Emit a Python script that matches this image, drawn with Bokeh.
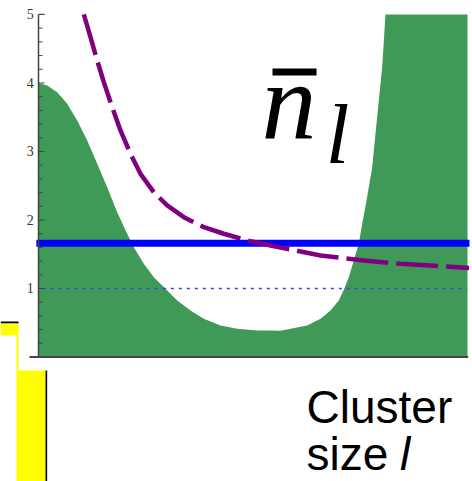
from bokeh.plotting import figure
from bokeh.models import Range1d
from bokeh.core.properties import value
from bokeh.embed import file_html
from bokeh.resources import INLINE

# Lower bound of the stable region (green) versus cluster size l
green_l = [0.0, 0.20, 0.431, 0.661, 0.892, 1.122, 1.353, 1.583, 1.813, 2.044,
           2.196, 2.426, 2.657, 2.926, 3.196, 3.502, 3.809, 4.194, 4.578, 5.039,
           5.346, 5.576, 5.806, 6.191, 6.498, 6.728, 6.919, 7.035, 7.150, 7.265,
           7.380, 7.459, 7.558, 7.689, 7.765, 7.841, 7.919, 7.995, 9.885]
green_n = [4.0, 3.964, 3.866, 3.696, 3.453, 3.161, 2.820, 2.479, 2.114, 1.799,
           1.603, 1.361, 1.165, 0.996, 0.825, 0.679, 0.558, 0.460, 0.412, 0.387,
           0.387, 0.383, 0.412, 0.460, 0.558, 0.679, 0.825, 0.981, 1.165, 1.409,
           1.653, 1.945, 2.285, 2.771, 3.258, 3.745, 4.231, 5.0, 5.0]

# Mean occupation n̄_l (dashed purple)
mean_l = [1.044, 1.198, 1.353, 1.505, 1.698, 1.889, 2.120, 2.350, 2.657, 2.965,
          3.348, 3.809, 4.270, 4.809, 5.346, 6.498, 7.495, 8.341, 9.92]
mean_n = [5.0, 4.669, 4.328, 4.012, 3.647, 3.307, 2.966, 2.674, 2.406, 2.212,
          2.041, 1.895, 1.799, 1.701, 1.628, 1.482, 1.409, 1.361, 1.30]

threshold = 1.66
unit_level = 1.0

y_ticks = [1, 2, 3, 4, 5]
y_minor = [0.2 * k for k in range(1, 25) if k % 5 != 0]

p = figure(width=472, height=481, output_backend="svg", toolbar_location=None,
           x_range=Range1d(-0.8756, 10.0), y_range=Range1d(-1.8175, 5.204),
           min_border=0, outline_line_color=None)
p.axis.visible = False
p.grid.visible = False
p.background_fill_color = "white"
p.border_fill_color = "white"

GREEN = "#3f9a57"

# Stable region
p.varea(x=green_l, y1=[0] * len(green_l), y2=green_n, fill_color=GREEN)

# Horizontal reference levels
p.line(x=[0.1, 9.88], y=[unit_level, unit_level], line_color="#3a3aff",
       line_width=1.5, line_dash="3 5")
p.line(x=[-0.05, 9.93], y=[threshold, threshold], line_color="#0000ff", line_width=7)

# Mean cluster occupation
p.line(x=mean_l, y=mean_n, line_color="#800080", line_width=4.5, line_dash="42 8")

# Axes drawn by hand so they can sit inside the frame
AX = "#444444"
p.segment(x0=[0], y0=[0], x1=[0], y1=[5], line_color=AX, line_width=1.5)
p.segment(x0=[-0.207], y0=[0], x1=[9.9], y1=[0], line_color=AX, line_width=1.8)
p.segment(x0=[0] * len(y_ticks), y0=y_ticks, x1=[0.14] * len(y_ticks), y1=y_ticks,
          line_color=AX, line_width=1.2)
p.segment(x0=[0] * len(y_minor), y0=y_minor, x1=[0.092] * len(y_minor), y1=y_minor,
          line_color=AX, line_width=1.0)
p.text(x=[-0.11] * len(y_ticks), y=y_ticks, text=[str(t) for t in y_ticks],
       text_font=value("Liberation Serif"), text_font_size="14px",
       text_color="#333333", text_align="right", text_baseline="middle")

# Symbol for the mean occupation: n with an overbar and the subscript l
p.text(x=[5.14], y=[3.716], text=["n"], text_font=value("Liberation Serif"),
       text_font_style="italic", text_font_size="110px", text_color="black",
       text_align="left", text_baseline="alphabetic")
p.quad(left=[5.392], right=[6.406], top=[4.212], bottom=[4.109],
       fill_color="black", line_color=None)
p.text(x=[6.62], y=[3.248], text=["l"], text_font=value("Liberation Serif"),
       text_font_style="italic", text_font_size="85px", text_color="black",
       text_align="left", text_baseline="alphabetic")

# Axis caption
CAP = dict(text_font=value("Liberation Sans"), text_font_size="46px",
           text_color="black", text_align="left", text_baseline="alphabetic")
p.text(x=[6.175], y=[-0.737], text=["Cluster"], **CAP)
p.text(x=[6.175], y=[-1.423], text=["size"], **CAP)
p.text(x=[8.33], y=[-1.423], text=["l"], text_font_style="italic", **CAP)

# Neighbouring yellow box at the lower left
p.quad(left=[-0.876], right=[-0.461], top=[0.518], bottom=[0.489],
       fill_color="black", line_color=None)
p.quad(left=[-0.876, -0.507, -0.507], right=[-0.461, -0.461, 0.161],
       top=[0.489, 0.314, -0.197], bottom=[0.314, -0.197, -1.83],
       fill_color="#ffff00", line_color=None)
p.quad(left=[0.161], right=[0.2], top=[-0.197], bottom=[-1.83],
       fill_color="#111111", line_color=None)

open("out.html", "w").write(file_html(p, INLINE))
